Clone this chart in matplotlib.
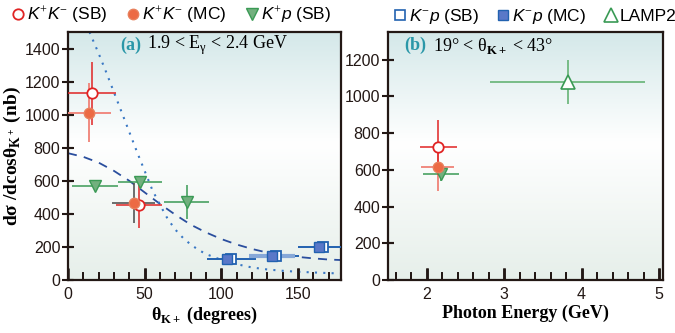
import matplotlib.pyplot as plt
import numpy as np
from matplotlib.lines import Line2D
from matplotlib.colors import LinearSegmentedColormap

plt.rcParams['font.family'] = ['Liberation Sans', 'DejaVu Sans']
plt.rcParams['mathtext.fontset'] = 'custom'
plt.rcParams['mathtext.rm'] = 'Liberation Serif'
plt.rcParams['mathtext.it'] = 'Liberation Sans:italic'
plt.rcParams['mathtext.bf'] = 'Liberation Serif:bold'

# ---- panel (a): angular distribution ----
kk_sb_x = [15.5, 46]
kk_sb_y = [1128, 452]
kk_sb_xerr = [15.5, 15]
kk_sb_yerr = [188, 140]

kk_mc_x = [14, 43]
kk_mc_y = [1012, 465]
kk_mc_xerr = [14, 14]
kk_mc_yerr = [180, 120]

kp_sb_x = [17.6, 47, 77.5]
kp_sb_y = [571, 594, 472]
kp_sb_xerr = [14.7, 14.6, 14.7]
kp_sb_yerr = [15, 38, 105]

km_mc_x = [104, 133, 163.5]
km_mc_y = [125, 143, 200]
km_sb_x = [106.5, 135.5, 166]
km_sb_y = [125, 143, 200]
km_xerr = [16, 15, 16]

dash_x = [0, 10, 20, 30, 40, 50, 60, 70, 80, 90, 100, 110, 120, 130, 140, 150, 160, 170, 178]
dash_y = [767, 745, 710, 660, 600, 530, 460, 395, 335, 288, 248, 215, 188, 166, 150, 140, 131, 124, 121]

dot_x = [14, 20, 25, 30, 35, 40, 45, 50, 55, 60, 65, 70, 75, 80, 85, 90,
         100, 110, 120, 130, 140, 150, 160, 170, 178]
dot_y = [1500, 1370, 1255, 1135, 1015, 895, 775, 660, 545, 455, 370, 305, 255, 215, 183, 157,
         122, 96, 76, 64, 56, 50, 46, 42, 40]

# ---- panel (b): energy dependence ----
e_sb = [2.15]; e_sb_y = [722]; e_sb_yerr = [150]; e_sb_xerr = [0.24]
e_mc = [2.14]; e_mc_y = [617]; e_mc_yerr = [130]; e_mc_xerr = [0.21]
e_kp = [2.18]; e_kp_y = [575]; e_kp_yerr = [35]; e_kp_xerr = [0.23]
lamp_x = [3.82]; lamp_y = [1078]; lamp_yerr = [120]; lamp_xerr = [1.0]

red = '#e02424'
red_l = '#f08a80'
red_fill = '#ec6a44'
green = '#3a9a55'
green_fill = '#72b07e'
blue = '#2262b0'
blue_l = '#86a8d8'
blue_fill = '#5a78c8'
ink = '#231815'

fig = plt.figure(figsize=(6.75, 3.33), dpi=100)
pos1 = [0.1007, 0.159, 0.4044, 0.745]
pos2 = [0.575, 0.159, 0.407, 0.745]

# gradient backgrounds in their own axes, behind the data axes
bg = LinearSegmentedColormap.from_list('bg', [(0.0, '#e6efea'), (0.55, '#ffffff'), (1.0, '#d4e8e9')])
grad = np.linspace(0, 1, 256).reshape(-1, 1)
for pos in (pos1, pos2):
    bax = fig.add_axes(pos, zorder=0)
    bax.imshow(grad, cmap=bg, aspect='auto', origin='lower', extent=[0, 1, 0, 1])
    bax.set_axis_off()

ax1 = fig.add_axes(pos1, zorder=1)
ax2 = fig.add_axes(pos2, zorder=1)
ax1.patch.set_visible(False)
ax2.patch.set_visible(False)

# curves
ax1.plot(dash_x, dash_y, ls=(0, (5, 4)), color='#2a4e9e', lw=1.3, zorder=2)
ax1.plot(dot_x, dot_y, ls=(0, (1, 3)), color='#3a78c4', lw=1.5, zorder=2)

# K+K- points
ax1.errorbar(kk_mc_x[:1], kk_mc_y[:1], xerr=kk_mc_xerr[:1], yerr=kk_mc_yerr[:1], fmt='none',
             ecolor=red_l, elinewidth=1.4, zorder=3)
ax1.errorbar(kk_mc_x[1:], kk_mc_y[1:], xerr=kk_mc_xerr[1:], yerr=kk_mc_yerr[1:], fmt='none',
             ecolor='#555555', elinewidth=1.2, zorder=3)
ax1.errorbar(kk_sb_x, kk_sb_y, xerr=kk_sb_xerr, yerr=kk_sb_yerr, fmt='none',
             ecolor=red, elinewidth=1.1, zorder=3)
ax1.plot(kk_sb_x, kk_sb_y, 'o', ms=7.5, mfc='white', mec=red, mew=1.3, ls='none', zorder=4)
ax1.plot(kk_mc_x, kk_mc_y, 'o', ms=7.5, mfc=red_fill, mec='#e8805c', mew=1, ls='none', zorder=5)

# K+p points
ax1.errorbar(kp_sb_x, kp_sb_y, xerr=kp_sb_xerr, yerr=kp_sb_yerr, fmt='none',
             ecolor=green, elinewidth=1.1, zorder=3)
ax1.plot(kp_sb_x, kp_sb_y, 'v', ms=8.5, mfc=green_fill, mec=green, mew=1, ls='none', zorder=4)

# K-p points
ax1.errorbar(km_sb_x, km_sb_y, xerr=km_xerr, fmt='none', ecolor=blue, elinewidth=1.4, zorder=3)
ax1.errorbar(km_mc_x[1:2], km_mc_y[1:2], xerr=km_xerr[1:2], fmt='none', ecolor=blue_l,
             elinewidth=3, zorder=3)
ax1.plot(km_sb_x, km_sb_y, 's', ms=7.5, mfc='white', mec=blue, mew=1.3, ls='none', zorder=4)
ax1.plot(km_mc_x, km_mc_y, 's', ms=7.5, mfc=blue_fill, mec=blue, mew=1, ls='none', zorder=5)

ax1.set_xlim(0, 178)
ax1.set_ylim(0, 1500)
ax1.set_xticks([0, 50, 100, 150])
ax1.set_xticks(np.arange(10, 178, 10), minor=True)
ax1.set_yticks(np.arange(0, 1401, 200))
ax1.set_xlabel(r'θ$_{\mathbf{K+}}$ (degrees)', family='Liberation Serif', weight='bold',
               fontsize=13, labelpad=2)
ax1.set_ylabel(r'dσ /dcosθ$_{\mathbf{K^+}}$ (nb)', family='Liberation Serif', weight='bold',
               fontsize=14, labelpad=1)
ax1.text(0.19, 0.945, '(a)', transform=ax1.transAxes, family='Liberation Serif',
         weight='bold', color='#2a97a8', fontsize=13, va='center')
ax1.text(0.29, 0.945, r'1.9 < E$_{\mathrm{γ}}$ < 2.4 GeV', transform=ax1.transAxes,
         family='Liberation Serif', fontsize=13, va='center')

# panel (b)
ax2.errorbar(lamp_x, lamp_y, xerr=lamp_xerr, yerr=lamp_yerr, fmt='none', ecolor='#5aae6a',
             elinewidth=1.1, zorder=3)
ax2.plot(lamp_x, lamp_y, '^', ms=9.5, mfc='white', mec=green, mew=1.2, ls='none', zorder=4)
ax2.errorbar(e_kp, e_kp_y, xerr=e_kp_xerr, yerr=e_kp_yerr, fmt='none', ecolor=green,
             elinewidth=1.1, zorder=3)
ax2.errorbar(e_mc, e_mc_y, xerr=e_mc_xerr, yerr=e_mc_yerr, fmt='none', ecolor=red_l,
             elinewidth=1.4, zorder=3)
ax2.errorbar(e_sb, e_sb_y, xerr=e_sb_xerr, yerr=e_sb_yerr, fmt='none', ecolor=red,
             elinewidth=1.1, zorder=3)
ax2.plot(e_kp, e_kp_y, 'v', ms=8.5, mfc=green_fill, mec=green, mew=1, ls='none', zorder=4)
ax2.plot(e_sb, e_sb_y, 'o', ms=7.5, mfc='white', mec=red, mew=1.3, ls='none', zorder=4)
ax2.plot(e_mc, e_mc_y, 'o', ms=7.5, mfc=red_fill, mec='#e8805c', mew=1, ls='none', zorder=5)

ax2.set_xlim(1.5, 5.05)
ax2.set_ylim(0, 1350)
ax2.set_xticks([2, 3, 4, 5])
ax2.set_xticks(np.arange(1.6, 5.0, 0.2), minor=True)
ax2.set_yticks(np.arange(0, 1201, 200))
ax2.set_xlabel('Photon Energy (GeV)', family='Liberation Serif', weight='bold',
               fontsize=13, labelpad=2)
ax2.text(0.06, 0.945, '(b)', transform=ax2.transAxes, family='Liberation Serif',
         weight='bold', color='#2a97a8', fontsize=13, va='center')
ax2.text(0.165, 0.945, r'19° < θ$_{\mathbf{K+}}$ < 43°', transform=ax2.transAxes,
         family='Liberation Serif', fontsize=13, va='center')

for ax in (ax1, ax2):
    for s in ax.spines.values():
        s.set_linewidth(1.6)
        s.set_color(ink)
    ax.tick_params(axis='x', which='major', direction='in', length=9, width=1.8,
                   color=ink, labelcolor=ink, labelsize=11.5, pad=5)
    ax.tick_params(axis='x', which='minor', direction='in', length=5.5, width=1.4, color=ink)
    ax.tick_params(axis='y', which='major', direction='inout', length=9, width=1.5,
                   color=ink, labelcolor=ink, labelsize=11.5, pad=1)
    # extra tick marks drawn inside the frame, so they stay on top of everything
    xt = ax.get_xaxis_transform()
    yt = ax.get_yaxis_transform()
    xmaj = [v for v in ax.get_xticks() if ax.get_xlim()[0] < v < ax.get_xlim()[1]]
    xmin = ax.get_xticks(minor=True)
    ax.vlines(xmaj, 0, 0.05, transform=xt, colors=ink, lw=1.8, zorder=6, clip_on=False)
    ax.vlines(xmin, 0, 0.028, transform=xt, colors=ink, lw=1.4, zorder=6, clip_on=False)
    ax.hlines(ax.get_yticks(), 0, 0.02, transform=yt, colors=ink, lw=1.5, zorder=6,
              clip_on=False)

# legends
h1 = [Line2D([], [], marker='o', ms=7.5, mfc='white', mec=red, mew=1.3, ls='none'),
      Line2D([], [], marker='o', ms=7.5, mfc=red_fill, mec='#e8805c', ls='none'),
      Line2D([], [], marker='v', ms=8.5, mfc=green_fill, mec=green, ls='none')]
l1 = [r'$K^{+}K^{-}$ (SB)', r'$K^{+}K^{-}$ (MC)', r'$K^{+}p$ (SB)']
ax1.legend(h1, l1, loc='lower center', bbox_to_anchor=(0.375, 0.99), ncol=3, frameon=False,
           fontsize=12.5, handletextpad=0.0, columnspacing=1.0, handlelength=1.0,
           borderaxespad=0.1)
h2 = [Line2D([], [], marker='s', ms=7, mfc='white', mec=blue, mew=1.2, ls='none'),
      Line2D([], [], marker='s', ms=7, mfc=blue_fill, mec=blue, ls='none'),
      Line2D([], [], marker='^', ms=9.5, mfc='white', mec=green, mew=1.2, ls='none')]
l2 = [r'$K^{-}p$ (SB)', r'$K^{-}p$ (MC)', 'LAMP2']
ax2.legend(h2, l2, loc='lower center', bbox_to_anchor=(0.53, 0.99), ncol=3, frameon=False,
           fontsize=12.5, handletextpad=0.0, columnspacing=0.9, handlelength=1.0,
           borderaxespad=0.1)

fig.savefig('out.png', dpi=100)
